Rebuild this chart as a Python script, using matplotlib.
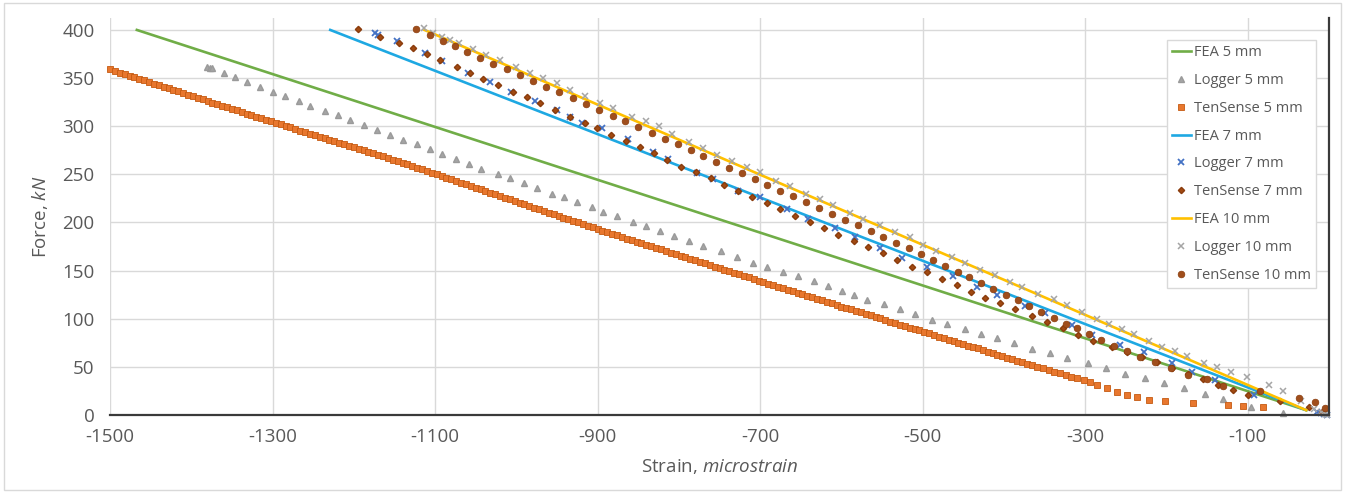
import matplotlib
matplotlib.use('Agg')
import matplotlib.pyplot as plt
from matplotlib.patches import Rectangle

plt.rcParams['font.family'] = ['Open Sans', 'DejaVu Sans']
plt.rcParams['mathtext.fontset'] = 'custom'
plt.rcParams['mathtext.rm'] = 'Open Sans'
plt.rcParams['mathtext.it'] = 'Open Sans:italic'

# Линии FEA (начало и конец)
fea5_x = [-1467, -28]
fea5_y = [400, 5]
fea7_x = [-1229, -28]
fea7_y = [400, 5]
fea10_x = [-1113, -28]
fea10_y = [400, 5]

# Logger 5 mm (треугольники)
logger5_x = [-1381, -1377, -1375, -1360, -1346, -1332, -1315, -1299, -1285, -1268,
             -1254, -1235, -1220, -1205, -1188, -1172, -1155, -1139, -1122, -1106,
             -1092, -1074, -1058, -1043, -1023, -1008, -991, -975, -956, -941,
             -925, -907, -893, -876, -857, -841, -823, -806, -787, -770,
             -748, -728, -709, -692, -672, -653, -634, -616, -599, -585,
             -569, -548, -528, -509, -489, -470, -448, -428, -409, -388,
             -365, -343, -323, -297, -274, -251, -227, -203, -178, -152,
             -130, -96, -56]
logger5_y = [361, 360, 360, 355.6, 351, 346, 341, 336, 331, 326.5,
             321, 316, 312, 306.5, 301, 296, 291, 286, 281, 276,
             271, 266, 261, 256, 250, 246, 241, 235.5, 230, 226,
             221, 216, 211, 207, 201, 196, 191.5, 186, 181, 176,
             170, 164.5, 158, 154, 149, 144, 139, 134, 129, 124.5,
             119.5, 115, 110, 105, 99, 94.5, 89, 84, 80, 74.5,
             69, 64, 59, 54, 48.5, 43, 38, 33, 28, 22,
             16.6, 8, 2]

# TenSense 5 mm (квадраты)
tensense5_x = [-1500, -1494, -1488, -1482, -1476, -1470, -1464, -1458, -1452, -1446,
               -1440, -1434, -1428, -1422, -1416, -1410, -1404, -1398, -1392, -1386,
               -1380, -1374, -1368, -1362, -1356, -1350, -1344, -1338, -1332, -1326,
               -1320, -1314, -1308, -1302,
               -1296, -1290, -1284, -1278, -1272, -1266, -1260, -1254, -1248, -1242,
               -1236, -1230, -1224, -1218, -1212, -1206, -1200, -1194, -1188, -1182,
               -1176, -1170, -1164, -1158, -1152, -1146,
               -1140, -1134, -1128, -1122, -1116, -1110, -1104, -1098, -1092, -1086,
               -1080, -1074, -1068, -1062, -1056, -1050, -1044, -1038, -1032, -1026,
               -1020, -1014, -1008, -1002, -996, -990, -984, -978, -972, -966,
               -960, -954, -948, -942, -936, -930, -924, -918, -912, -906, -900,
               -894, -888, -882, -876, -870, -864, -858, -852, -846, -840,
               -834, -828, -822, -816, -810, -804, -798, -792, -786, -780,
               -774, -768, -762, -756, -750, -744, -738, -732, -726, -720,
               -714, -708, -702, -696, -690, -684, -678, -672, -666, -660, -654,
               -648, -642, -636, -630, -624, -618, -612, -606, -600, -594,
               -588, -582, -576, -570, -564, -558, -552, -546, -540, -534,
               -528, -522, -516, -510, -504, -498, -492, -486, -480, -474,
               -468, -462, -456, -450, -444, -438, -432, -426, -420, -414,
               -408, -402, -396, -390, -384, -378, -372, -366,
               -359, -352, -345, -338, -331, -324, -317, -310, -302, -294,
               -286, -273, -261, -249, -236, -222, -202, -167, -124, -106, -81]
tensense5_y = [359.0, 357.4, 355.7, 354.1, 352.5, 350.8, 349.2, 347.5, 345.9, 344.3,
               342.6, 341.0, 339.4, 337.7, 336.1, 334.5, 332.8, 331.2, 329.5, 327.9,
               326.3, 324.6, 323.0, 321.4, 319.7, 318.1, 316.5, 314.8, 313.2, 311.5,
               309.9, 308.3, 306.6, 305.0,
               303.4, 301.8, 300.2, 298.7, 297.1, 295.5, 293.9, 292.3, 290.7, 289.2,
               287.6, 286.0, 284.4, 282.8, 281.2, 279.7, 278.1, 276.5, 274.9, 273.3,
               271.7, 270.1, 268.6, 267.0, 265.4, 263.8,
               262.1, 260.4, 258.7, 256.9, 255.2, 253.5, 251.8, 250.0, 248.3, 246.6,
               244.9, 243.1, 241.4, 239.7, 237.9, 236.2, 234.5, 232.8, 231.0, 229.3,
               227.6, 225.9, 224.1, 222.4, 220.7, 219.0, 217.2, 215.5, 213.8, 212.0,
               210.3, 208.6, 206.9, 205.1, 203.4, 201.7, 200.0, 198.2, 196.5, 194.8, 193.0,
               191.4, 189.8, 188.2, 186.5, 184.9, 183.3, 181.7, 180.1, 178.5, 176.9,
               175.2, 173.6, 172.0, 170.4, 168.8, 167.2, 165.6, 163.9, 162.3, 160.7,
               159.1, 157.5, 155.9, 154.2, 152.6, 151.0, 149.4, 147.8, 146.2, 144.6,
               142.9, 141.3, 139.7, 138.1, 136.5, 134.9, 133.3, 131.6, 130.0, 128.4, 126.8,
               125.2, 123.7, 122.1, 120.5, 119.0, 117.4, 115.9, 114.3, 112.7, 111.2,
               109.6, 108.1, 106.5, 104.9, 103.4, 101.8, 100.3, 98.7, 97.1, 95.6,
               94.0, 92.5, 90.9, 89.3, 87.8, 86.2, 84.7, 83.1, 81.5, 80.0,
               78.4, 76.9, 75.3, 73.7, 72.2, 70.6, 69.1, 67.5, 65.9, 64.4,
               62.8, 61.3, 59.7, 58.1, 56.6, 55.0, 53.5, 51.9,
               50.2, 48.5, 46.7, 45.0, 43.2, 41.5, 39.8, 38.2, 36.4, 33.8,
               31.0, 27.7, 24.0, 20.8, 18.3, 16.0, 14.5, 12.8, 10.4, 9.3, 8.0]

# Logger 7 mm (синие крестики)
logger7_x = [-1174, -1170, -1147, -1112, -1092, -1059, -1032, -1006, -977, -950,
             -934, -919, -895, -862, -832, -813, -778, -758, -727, -700,
             -667, -641, -608, -583, -552, -525, -495, -463, -433, -409,
             -374, -349, -316, -292, -257, -228, -193, -169, -140, -92,
             -15, -10, -6, -3]
logger7_y = [397, 395, 388, 376, 368, 355, 346, 336, 326, 317,
             310, 303, 298, 287, 273, 266, 251, 245, 233, 226,
             214, 204, 194, 185, 174, 163, 154, 144, 133, 125,
             113, 106, 94, 83, 73, 65, 54, 45, 36, 21,
             3, 2, 1, 0]

# TenSense 7 mm (ромбы)
tensense7_x = [-1195, -1168, -1145, -1127, -1110, -1094, -1073, -1057, -1041, -1022,
               -1004, -987, -971, -952, -934, -915, -901, -883, -865, -848,
               -831, -814, -797, -779, -761, -745, -727, -710, -692, -675,
               -657, -639, -622, -604, -585, -567, -549, -531, -513, -495,
               -476, -458, -441, -423, -405, -386, -366, -347, -327, -309,
               -290, -267, -249, -230, -212, -193, -174, -155, -137, -118,
               -100, -60, -25, -8]
tensense7_y = [401, 393, 386, 381, 375, 369, 362, 355, 349, 343,
               336, 330, 324, 317, 310, 303, 298, 291, 285, 278,
               272, 265, 258, 252, 246, 239, 233, 226, 220, 214,
               207, 201, 194, 187, 181, 175, 168, 161, 154, 149,
               141, 135, 128, 122, 116, 110, 103, 97, 90, 83,
               77, 71, 65, 60, 55, 49, 43, 37, 31, 26,
               21, 15, 8, 3]

# Logger 10 mm (серые крестики)
logger10_x = [-1114, -1102, -1092, -1082, -1071, -1053, -1037, -1020, -1001, -983,
              -967, -950, -934, -915, -897, -881, -858, -840, -825, -809,
              -788, -770, -753, -735, -716, -700, -680, -663, -643, -626,
              -610, -589, -573, -552, -534, -515, -499, -483, -464, -448,
              -429, -411, -392, -378, -358, -339, -322, -304, -286, -271,
              -255, -240, -221, -205, -189, -175, -154, -138, -121, -101,
              -74, -56, -35, -18, -10, -5, -2]
logger10_y = [402, 397, 393, 390, 386, 380, 374, 369, 362, 355,
              350, 345, 338, 331, 324, 319, 310, 305, 300, 292,
              284, 277, 270, 264, 258, 252, 243, 238, 230, 224,
              218, 210, 204, 197, 190, 185, 177, 170, 164, 158,
              151, 145, 138, 133, 126, 120, 114, 107, 100, 95,
              89, 84, 77, 71, 66, 61, 54, 50, 45, 40,
              31, 25, 15, 6, 3, 1, 0]

# TenSense 10 mm (кружки)
tensense10_x = [-1124, -1106, -1090, -1075, -1061, -1045, -1029, -1012, -995, -979,
                -963, -947, -930, -914, -898, -881, -866, -850, -833, -817,
                -801, -785, -770, -754, -738, -722, -706, -691, -675, -659,
                -643, -628, -612, -596, -580, -564, -549, -533, -517, -502,
                -487, -472, -457, -443, -428, -413, -398, -383, -369, -354,
                -339, -324, -310, -295, -280, -265, -248, -232, -214, -195,
                -173, -150, -130, -85, -37, -17, -5]
tensense10_y = [401, 395, 389, 383, 377, 371, 365, 359, 353, 347,
                341, 336, 329, 323, 317, 311, 305, 299, 293, 287,
                281, 275, 269, 263, 257, 251, 245, 239, 233, 227,
                221, 215, 209, 203, 197, 191, 185, 179, 173, 167,
                161, 155, 149, 143, 137, 131, 125, 119, 113, 107,
                101, 95, 90, 84, 78, 72, 66, 60, 55, 49,
                42, 37, 30, 25, 18, 13, 7]

x_ticks = [-1500, -1300, -1100, -900, -700, -500, -300, -100]
y_ticks = [0, 50, 100, 150, 200, 250, 300, 350, 400]

text_color = '#595959'

fig = plt.figure(figsize=(13.45, 4.93), dpi=100)
ax = fig.add_axes([0.0818, 0.1582, 0.9063, 0.8045])

# Серии в порядке Excel
ax.plot(fea5_x, fea5_y, color='#70AD47', lw=1.9, label='FEA 5 mm')
ax.plot(logger5_x, logger5_y, ls='none', marker='^', ms=4.6, color='#A5A5A5',
        mec='#9A9A9A', label='Logger 5 mm', clip_on=False)
ax.plot(tensense5_x, tensense5_y, ls='none', marker='s', ms=4.1, color='#E8772E',
        mec='#C55A11', mew=0.6, label='TenSense 5 mm', clip_on=False)
ax.plot(fea7_x, fea7_y, color='#1EA8E2', lw=1.9, label='FEA 7 mm')
ax.plot(logger7_x, logger7_y, ls='none', marker='x', ms=4, mew=1.3, color='#4472C4',
        label='Logger 7 mm', clip_on=False)
ax.plot(tensense7_x, tensense7_y, ls='none', marker='D', ms=3.2, color='#A24A12',
        mec='#8A3C0C', label='TenSense 7 mm', clip_on=False)
ax.plot(fea10_x, fea10_y, color='#FFC000', lw=1.9, label='FEA 10 mm')
ax.plot(logger10_x, logger10_y, ls='none', marker='x', ms=4, mew=1.1, color='#A5A5A5',
        label='Logger 10 mm', clip_on=False)
ax.plot(tensense10_x, tensense10_y, ls='none', marker='o', ms=4.8, color='#A04E1C',
        mec='#8A3C0C', mew=0.5, label='TenSense 10 mm', clip_on=False)

ax.set_xlim(-1500, 0)
ax.set_ylim(0, 412)
ax.set_xticks(x_ticks)
ax.set_yticks(y_ticks)
ax.set_xticklabels([str(t) for t in x_ticks])
ax.grid(True, color='#D9D9D9', lw=1)
ax.set_axisbelow(True)

for s in ['left', 'top']:
    ax.spines[s].set_visible(False)
ax.spines['bottom'].set_color('#3A3A3A')
ax.spines['bottom'].set_linewidth(1.6)
ax.spines['right'].set_color('#3A3A3A')
ax.spines['right'].set_linewidth(1.6)

ax.tick_params(axis='both', length=0, labelsize=13.5, colors=text_color)
ax.tick_params(axis='y', pad=11)
ax.tick_params(axis='x', pad=9)

ax.set_xlabel('Strain, $\\mathit{microstrain}$', fontsize=13.5, color=text_color, labelpad=8)
ax.set_ylabel('Force, $\\mathit{kN}$', fontsize=13.5, color=text_color, labelpad=9)

leg = ax.legend(loc='upper right', bbox_to_anchor=(0.9893, 0.9455), borderaxespad=0,
                fontsize=10.5, numpoints=1, handlelength=1.3, handletextpad=0.2,
                labelspacing=0.88, fancybox=False, framealpha=1, borderpad=0.35,
                labelcolor=text_color)
leg.get_frame().set_edgecolor('#D9D9D9')
leg.get_frame().set_linewidth(1)

# Рамка области диаграммы
fig.patches.append(Rectangle((0.003, 0.006), 0.994, 0.988, transform=fig.transFigure,
                             fill=False, edgecolor='#D9D9D9', lw=1))

plt.savefig('out.png', dpi=100)
